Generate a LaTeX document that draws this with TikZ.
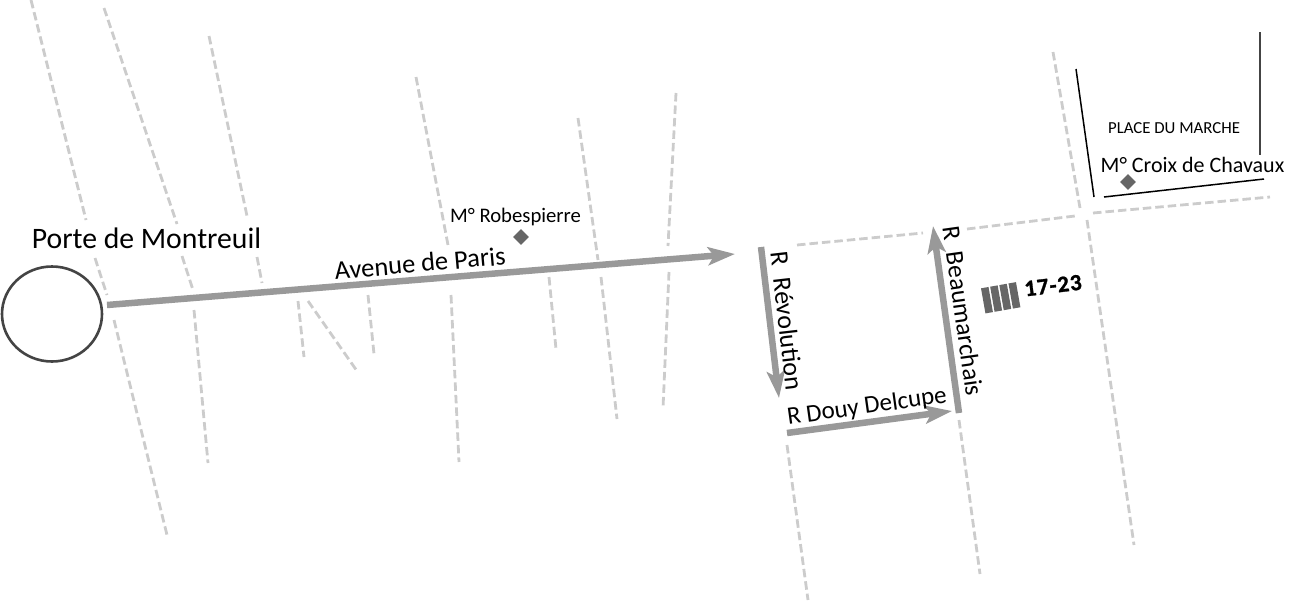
\documentclass[tikz,border=0pt]{standalone}
\usepackage{fontspec}
\setmainfont{Carlito}
\usetikzlibrary{arrows.meta,shapes.geometric}
\definecolor{road}{HTML}{CCCCCC}
\definecolor{route}{HTML}{999999}
\definecolor{mark}{HTML}{666666}
\definecolor{edge}{HTML}{444444}
\tikzset{
  street/.style={draw=road,line width=2.8pt,dash pattern=on 8.5pt off 4pt},
  routeline/.style={draw=route,line width=6.5pt,-{Stealth[length=27pt,width=18pt,inset=6pt]}},
  plain/.style={draw=black,line width=1.5pt},
  lbl/.style={inner sep=0pt,text=black},
  station/.style={diamond,fill=mark,minimum size=16pt,inner sep=0pt},
  stripe/.style={fill=mark,draw=none}
}
\begin{document}
\begin{tikzpicture}[x=1pt,y=-1pt]
\useasboundingbox (0,0) rectangle (1300,600);
% streets
\draw[street] (31,0) -- (86,220);
\draw[street] (95,258) -- (107,295);
\draw[street] (114,320) -- (167,535);
\draw[street] (104,8) -- (177,224);
\draw[street] (182,256) -- (193,290);
\draw[street] (194,310) -- (208,463);
\draw[street] (209,36) -- (247,216);
\draw[street] (257,257) -- (262,283);
\draw[street] (298,301) -- (304,357);
\draw[street] (308,301) -- (357,371);
\draw[street] (368,295) -- (374,354);
\draw[street] (416,77) -- (448,245);
\draw[street] (451,295) -- (459,462);
\draw[street] (549,277) -- (556,349);
\draw[street] (578,118) -- (598,260);
\draw[street] (601,277) -- (617,419);
\draw[street] (676,93) -- (668,246);
\draw[street] (669,272) -- (663,408);
\draw[street] (797,245) -- (923,233);
\draw[street] (967,229) -- (1075,216);
\draw[street] (1093,213) -- (1270,197);
\draw[street] (1053,52) -- (1080,208);
\draw[street] (1087,220) -- (1134,545);
\draw[street] (959,420) -- (980,574);
\draw[street] (787,445) -- (808,600);
% place
\coordinate (p1) at (1076,69); \coordinate (p2) at (1094,197);
\coordinate (p3) at (1104,197); \coordinate (p4) at (1264,179);
\coordinate (p5) at (1260,32); \coordinate (p6) at (1260,155);
\draw[plain] (p1) -- (p2);
\draw[plain] (p3) -- (p4);
\draw[draw=edge,line width=1.5pt] (p5) -- (p6);
% circle
\node[ellipse,draw=edge,line width=2.6pt,minimum width=100pt,minimum height=95pt,inner sep=0pt] (pm) at (52,314) {};
% routes
\coordinate (a1) at (107,305); \coordinate (a2) at (735,254);
\coordinate (b1) at (761,247); \coordinate (b2) at (779,398);
\coordinate (c1) at (787,433); \coordinate (c2) at (952,411);
\coordinate (d1) at (959,413); \coordinate (d2) at (933,226);
\draw[routeline] (a1) -- (a2);
\draw[routeline] (b1) -- (b2);
\draw[routeline] (c1) -- (c2);
\draw[routeline] (d1) -- (d2);
% stations
\node[station] (s1) at (521,237) {};
\node[station] (s2) at (1128,182) {};
% labels
\node[lbl,font=\fontsize{29.7}{30}\selectfont] (t1) at (146.5,238) {Porte de Montreuil};
\node[lbl,font=\fontsize{26.5}{27}\selectfont,rotate=5] (t2) at (420,263) {Avenue de Paris};
\node[lbl,font=\fontsize{20.7}{21}\selectfont] (t3) at (515.5,217) {M° Robespierre};
\node[lbl,font=\fontsize{26}{26}\selectfont,rotate=-83.5] (t4) at (787,321) {R\ \ Révolution};
\node[lbl,font=\fontsize{25}{25}\selectfont,rotate=8] (t5) at (867,407) {R Douy Delcupe};
\node[lbl,font=\fontsize{25.5}{26}\selectfont,rotate=-82] (t6) at (963,311) {R\ \ Beaumarchais};
\node[lbl,font=\fontsize{23}{23}\bfseries\addfontfeature{LetterSpace=4,FakeBold=1.2},rotate=7] (t7) at (1053,285.5) {17-23};
\node[lbl,font=\fontsize{16.8}{17}\selectfont] (t8) at (1174,128) {PLACE DU MARCHE};
\node[lbl,font=\fontsize{22}{22}\selectfont] (t9) at (1192.5,165) {M° Croix de Chavaux};
% block
\begin{scope}[shift={(981,288.3)},rotate=10]
\foreach \x in {0,9.3,18.6,27.9}{
  \fill[stripe] (\x,0) rectangle (\x+7.6,25.5);
}
\end{scope}
\end{tikzpicture}
\end{document}
